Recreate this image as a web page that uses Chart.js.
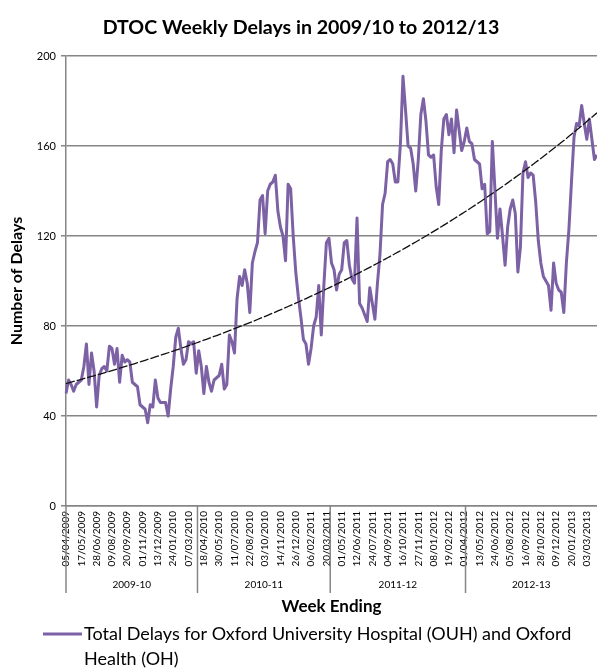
<!DOCTYPE html>
<html><head><meta charset="utf-8">
<script src="https://cdn.jsdelivr.net/npm/chart.js@4.4.1/dist/chart.umd.min.js"></script>
<style>html,body{margin:0;padding:0;background:#fff;}#wrap{width:597px;height:668px;}</style>
</head><body>
<div id="wrap"><canvas id="c" width="597" height="668"></canvas></div>
<script>
// ---- data ----
const titleText = 'DTOC Weekly Delays in 2009/10 to 2012/13';
const yAxisTitle = 'Number of Delays';
const xAxisTitle = 'Week Ending';
const seriesName = 'Total Delays for Oxford University Hospital (OUH) and Oxford Health (OH)';
const legendLines = ['Total Delays for Oxford University Hospital (OUH) and Oxford', 'Health (OH)'];
const firstWeekEnding = [2009, 4, 5]; // 05/04/2009
const tickEvery = 6;
const groupLabels = ['2009-10', '2010-11', '2011-12', '2012-13'];
const groupWeeks = [52, 52, 53, 52];
const yTicks = [0, 40, 80, 120, 160, 200];
const delays = [
  50,56,54,51,54,55,56,62,72,54,
  68,60,44,58,61,62,60,71,70,63,
  70,55,67,64,65,64,55,54,53,45,
  44,43,37,45,44,56,48,46,46,46,
  40,52,62,75,79,70,63,65,73,72,
  73,59,69,62,50,62,55,51,56,57,
  58,63,52,54,76,73,68,92,102,98,
  105,99,86,108,113,117,136,138,121,140,
  143,144,147,131,124,120,109,143,141,120,
  104,93,84,74,72,63,70,80,84,98,
  76,98,117,119,108,105,96,103,105,117,
  118,107,101,99,128,90,88,85,82,97,
  90,83,99,112,134,139,153,154,152,144,
  144,161,191,176,160,159,152,140,154,174,
  181,171,156,155,156,142,134,158,172,174,
  165,172,157,176,167,158,162,168,162,161,
  154,153,152,141,143,121,122,162,141,119,
  132,120,107,124,132,136,130,104,115,148,
  153,146,148,147,135,118,108,102,100,98,
  87,108,99,96,95,86,108,123,144,164,
  170,169,178,170,163,172,163,154,156
];

// ---- derived ----
const pad = n => String(n).padStart(2, '0');
const weekLabels = delays.map((_, i) => {
  const d = new Date(Date.UTC(firstWeekEnding[0], firstWeekEnding[1] - 1, firstWeekEnding[2] + 7 * i));
  return pad(d.getUTCDate()) + '/' + pad(d.getUTCMonth() + 1) + '/' + d.getUTCFullYear();
});
// exponential least-squares trendline of the series (ln y linear in x), as Excel does
function expTrend(vals) {
  const n = vals.length;
  let sx = 0, sy = 0, sxx = 0, sxy = 0;
  vals.forEach((v, x) => { const ly = Math.log(v); sx += x; sy += ly; sxx += x * x; sxy += x * ly; });
  const b = (n * sxy - sx * sy) / (n * sxx - sx * sx);
  const a = (sy - b * sx) / n;
  return vals.map((_, x) => Math.exp(a + b * x));
}
const trend = expTrend(delays);

const FONT = 'Lato, "Open Sans", sans-serif';
const GRID = '#868686';
const PURPLE = '#7C62A5';

const decor = {
  id: 'decor',
  afterDraw(chart) {
    const ctx = chart.ctx, xs = chart.scales.x, ca = chart.chartArea;
    ctx.save();
    ctx.fillStyle = '#000';
    ctx.textAlign = 'center'; ctx.textBaseline = 'middle';
    ctx.font = 'bold 19.6px ' + FONT;
    ctx.fillText(titleText, 301, 28);
    ctx.save();
    ctx.translate(17, 281);
    ctx.rotate(-Math.PI / 2);
    ctx.font = 'bold 16px ' + FONT;
    ctx.fillText(yAxisTitle, 0, 0);
    ctx.restore();
    // group dividers and labels
    ctx.strokeStyle = GRID; ctx.lineWidth = 1.5;
    const bottom = 593;
    let start = 0, left = xs.getPixelForValue(0);
    ctx.beginPath(); ctx.moveTo(left, ca.bottom); ctx.lineTo(left, bottom); ctx.stroke();
    ctx.font = '10px ' + FONT;
    groupWeeks.forEach((n, g) => {
      const end = start + n;
      let right;
      if (end < delays.length) {
        right = (xs.getPixelForValue(end - 1) + xs.getPixelForValue(end)) / 2;
        ctx.beginPath(); ctx.moveTo(right, ca.bottom); ctx.lineTo(right, bottom); ctx.stroke();
      } else right = ca.right;
      ctx.fillText(groupLabels[g], (left + right) / 2, 585);
      left = right; start = end;
    });
    ctx.font = 'bold 17px ' + FONT;
    ctx.fillText(xAxisTitle, (ca.left + ca.right) / 2, 607);
    // legend
    ctx.strokeStyle = PURPLE; ctx.lineWidth = 3;
    ctx.beginPath(); ctx.moveTo(43, 634); ctx.lineTo(82, 634); ctx.stroke();
    ctx.textAlign = 'left';
    ctx.font = '18px ' + FONT;
    ctx.fillText(legendLines[0], 84, 634);
    ctx.fillText(legendLines[1], 84, 659);
    ctx.restore();
  }
};

new Chart(document.getElementById('c'), {
  type: 'line',
  data: {
    labels: weekLabels,
    datasets: [
      { label: seriesName, data: delays, borderColor: PURPLE, borderWidth: 3, pointRadius: 0, tension: 0, borderJoinStyle: 'round', order: 2 },
      { label: 'Trend', data: trend, borderColor: '#111', borderWidth: 1.3, pointRadius: 0, tension: 0, borderDash: [9, 2], order: 1 }
    ]
  },
  options: {
    responsive: false, animation: false, devicePixelRatio: 1,
    layout: { padding: { top: 56, left: 0, right: 0, bottom: 0 } },
    plugins: { legend: { display: false }, title: { display: false }, tooltip: { enabled: false } },
    scales: {
      x: {
        type: 'category', offset: false,
        grid: { display: false, drawTicks: false },
        border: { display: true, color: GRID, width: 1.5 },
        ticks: {
          autoSkip: false, maxRotation: 90, minRotation: 90, padding: 5,
          color: '#000', font: { family: FONT, size: 10 },
          callback: (v, i) => (i % tickEvery === 0 ? weekLabels[i] : '')
        },
        afterFit: s => { s.height = 668 - 506; s.paddingLeft = 0; s.paddingRight = 0; }
      },
      y: {
        min: 0, max: 200,
        afterBuildTicks: s => { s.ticks = yTicks.map(v => ({ value: v })); },
        grid: { color: GRID, lineWidth: 1.5, tickLength: 5, drawTicks: true },
        border: { display: true, color: GRID, width: 1.5 },
        ticks: { color: '#000', padding: 5, font: { family: FONT, size: 11 } },
        afterFit: s => { s.width = 66; s.paddingTop = 0; s.paddingBottom = 0; }
      }
    }
  },
  plugins: [decor]
});
</script>
</body></html>
